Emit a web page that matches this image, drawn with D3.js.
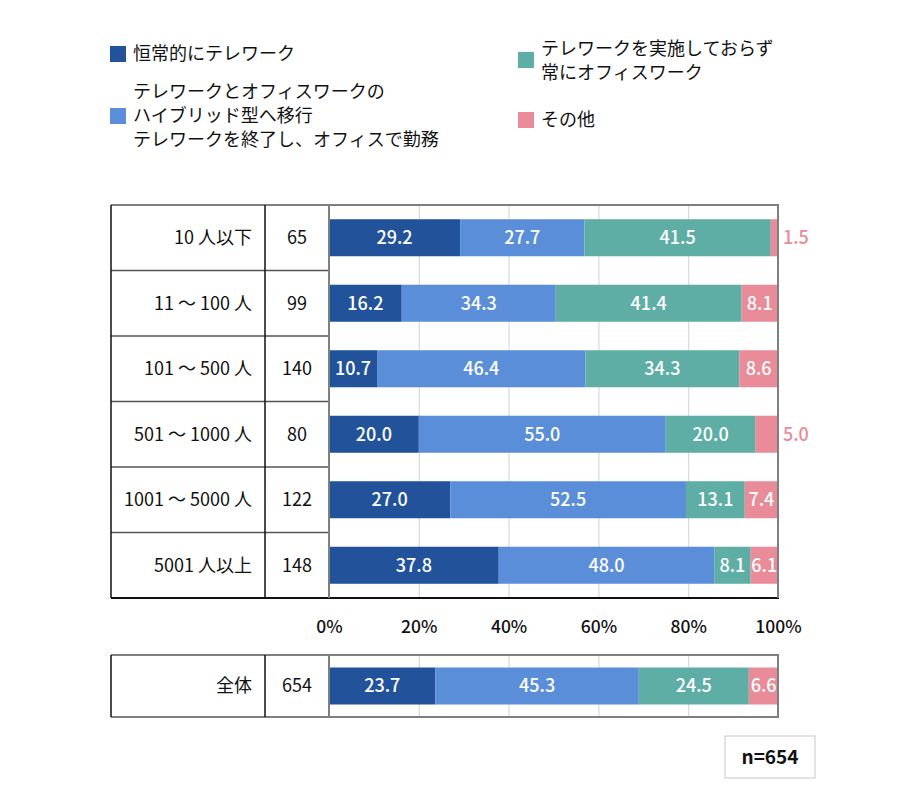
<!DOCTYPE html>
<html lang="ja">
<head>
<meta charset="UTF-8">
<title>テレワークの実施状況</title>
<script src="https://d3js.org/d3.v7.min.js"></script>
<style>
  body { margin: 0; background: #fff; font-family: "Noto Sans CJK JP", "Noto Sans", sans-serif; }
  svg text { font-family: "Noto Sans CJK JP", "Noto Sans", sans-serif; }
</style>
</head>
<body>
<div id="chart"></div>
<script>
// data
const categories = ["10 人以下", "11 ～ 100 人", "101 ～ 500 人", "501 ～ 1000 人", "1001 ～ 5000 人", "5001 人以上"];
const counts = [65, 99, 140, 80, 122, 148];
const always = [29.2, 16.2, 10.7, 20.0, 27.0, 37.8];
const hybrid = [27.7, 34.3, 46.4, 55.0, 52.5, 48.0];
const office = [41.5, 41.4, 34.3, 20.0, 13.1, 8.1];
const other = [1.5, 8.1, 8.6, 5.0, 7.4, 6.1];

const totalLabel = ["全体"];
const totalCount = [654];
const totalValues = [23.7, 45.3, 24.5, 6.6];

const ticks = [0, 20, 40, 60, 80, 100];
const seriesNames = ["恒常的にテレワーク", "ハイブリッド型へ移行", "常にオフィスワーク", "その他"];
const colors = ["#22539a", "#5b8ed9", "#5eaea6", "#e98b99"];
const nLabel = "n=654";

const width = 900, height = 803;
const tableLeft = 111, colDiv = 265, plotLeft = 329, plotRight = 778;
const outsideBelow = 5.5; // labels of thinner segments go outside the bar

const svg = d3.select("#chart").append("svg")
    .attr("width", width)
    .attr("height", height);

const x = d3.scaleLinear().domain([0, 100]).range([plotLeft, plotRight]);

const y = d3.scaleBand().domain(categories).range([205, 598])
    .paddingInner(0.435).paddingOuter(0.2175);
const yTotal = d3.scaleBand().domain(totalLabel).range([655, 717])
    .paddingInner(0).paddingOuter(0.338);

const rows = categories.map((c, i) => ({
    label: c, n: counts[i], values: [always[i], hybrid[i], office[i], other[i]]
}));
const totalRows = [{ label: totalLabel[0], n: totalCount[0], values: totalValues }];

function stackRow(values) {
    let acc = 0;
    return values.map((v, k) => {
        const s = { x0: acc, x1: acc + v, v: v, k: k };
        acc += v;
        return s;
    });
}

function drawPanel(g, data, yScale, top, bottom) {
    // gridlines
    g.append("g")
        .attr("transform", `translate(0,${bottom})`)
        .call(d3.axisBottom(x).tickValues(ticks.slice(1, -1)).tickSize(-(bottom - top)).tickFormat(""))
        .call(a => a.select(".domain").remove())
        .call(a => a.selectAll("line").attr("stroke", "#d9d9d9").attr("stroke-width", 1.2));

    // bars
    const row = g.selectAll(".row").data(data).enter().append("g")
        .attr("transform", d => `translate(0,${yScale(d.label)})`);

    const segs = row.selectAll("rect").data(d => stackRow(d.values)).enter();
    segs.append("rect")
        .attr("x", s => x(s.x0))
        .attr("width", s => x(s.x1) - x(s.x0))
        .attr("y", 0)
        .attr("height", yScale.bandwidth())
        .attr("fill", s => colors[s.k]);

    segs.append("text")
        .attr("x", s => s.v < outsideBelow ? x(100) + 5 : (x(s.x0) + x(s.x1)) / 2)
        .attr("y", yScale.bandwidth() / 2)
        .attr("dy", "0.36em")
        .attr("text-anchor", s => s.v < outsideBelow ? "start" : "middle")
        .attr("fill", s => s.v < outsideBelow ? colors[3] : "#fff")
        .attr("font-size", 18)
        .attr("font-weight", 500)
        .text(s => s.v.toFixed(1));

    // table text
    g.selectAll(".lab").data(data).enter().append("text")
        .attr("x", 252)
        .attr("y", d => yScale(d.label) + yScale.bandwidth() / 2)
        .attr("dy", "0.36em")
        .attr("text-anchor", "end")
        .attr("font-size", 18)
        .attr("fill", "#111")
        .text(d => d.label);

    g.selectAll(".cnt").data(data).enter().append("text")
        .attr("x", (colDiv + plotLeft) / 2)
        .attr("y", d => yScale(d.label) + yScale.bandwidth() / 2)
        .attr("dy", "0.36em")
        .attr("text-anchor", "middle")
        .attr("font-size", 18)
        .attr("fill", "#111")
        .text(d => d.n);

    // row separators in table
    const step = yScale.step();
    data.forEach((d, i) => {
        if (i === 0) return;
        const yy = yScale(d.label) - yScale.paddingInner() * step / 2;
        g.append("line").attr("x1", tableLeft).attr("x2", plotLeft).attr("y1", yy).attr("y2", yy)
            .attr("stroke", "#555").attr("stroke-width", 1.5);
    });

    // frame
    g.append("line").attr("x1", tableLeft).attr("x2", plotRight + 1).attr("y1", top).attr("y2", top)
        .attr("stroke", "#7f7f7f").attr("stroke-width", 2);
    g.append("line").attr("x1", tableLeft).attr("x2", plotRight + 1).attr("y1", bottom).attr("y2", bottom)
        .attr("stroke", data.length > 1 ? "#111" : "#7f7f7f").attr("stroke-width", 2);
    g.append("line").attr("x1", tableLeft).attr("x2", tableLeft).attr("y1", top).attr("y2", bottom)
        .attr("stroke", "#111").attr("stroke-width", 1.5);
    g.append("line").attr("x1", colDiv).attr("x2", colDiv).attr("y1", top).attr("y2", bottom)
        .attr("stroke", "#111").attr("stroke-width", 1.5);
    g.append("line").attr("x1", plotLeft).attr("x2", plotLeft).attr("y1", top).attr("y2", bottom)
        .attr("stroke", "#7f7f7f").attr("stroke-width", 2);
    g.append("line").attr("x1", plotRight).attr("x2", plotRight).attr("y1", top).attr("y2", bottom)
        .attr("stroke", "#7f7f7f").attr("stroke-width", 2);
}

drawPanel(svg.append("g"), rows, y, 205, 598);
drawPanel(svg.append("g"), totalRows, yTotal, 655, 717);

// percent axis labels
svg.append("g")
    .attr("transform", "translate(0,627)")
    .call(d3.axisBottom(x).tickValues(ticks).tickSize(0).tickFormat(d => d + "%"))
    .call(a => a.select(".domain").remove())
    .call(a => a.selectAll("text")
        .attr("y", 0).attr("dy", "0.36em")
        .attr("font-size", 17.5).attr("font-weight", 500).attr("fill", "#111")
        .style("font-family", "'Noto Sans CJK JP', sans-serif"));

// legend
const legend = [
    { k: 0, sx: 110, sy: 46, tx: 133, lines: ["恒常的にテレワーク"], ly: [54] },
    { k: 1, sx: 110, sy: 108, tx: 133, lines: ["テレワークとオフィスワークの", "ハイブリッド型へ移行", "テレワークを終了し、オフィスで勤務"], ly: [92, 116, 140] },
    { k: 2, sx: 518, sy: 52, tx: 541, lines: ["テレワークを実施しておらず", "常にオフィスワーク"], ly: [49, 73] },
    { k: 3, sx: 518, sy: 112, tx: 541, lines: ["その他"], ly: [120] }
];
const lg = svg.append("g");
legend.forEach(item => {
    lg.append("rect").attr("x", item.sx).attr("y", item.sy).attr("width", 16).attr("height", 16)
        .attr("fill", colors[item.k]);
    item.lines.forEach((t, j) => {
        lg.append("text").attr("x", item.tx).attr("y", item.ly[j]).attr("dy", "0.36em")
            .attr("font-size", 18).attr("fill", "#111").text(t);
    });
});

// n box
svg.append("rect").attr("x", 725).attr("y", 736).attr("width", 90).attr("height", 42)
    .attr("fill", "#fff").attr("stroke", "#c8c8c8").attr("stroke-width", 1);
svg.append("text").attr("x", 770).attr("y", 757).attr("dy", "0.36em")
    .attr("text-anchor", "middle").attr("font-size", 19).attr("font-weight", 700)
    .attr("fill", "#111").text(nLabel);
</script>
</body>
</html>
